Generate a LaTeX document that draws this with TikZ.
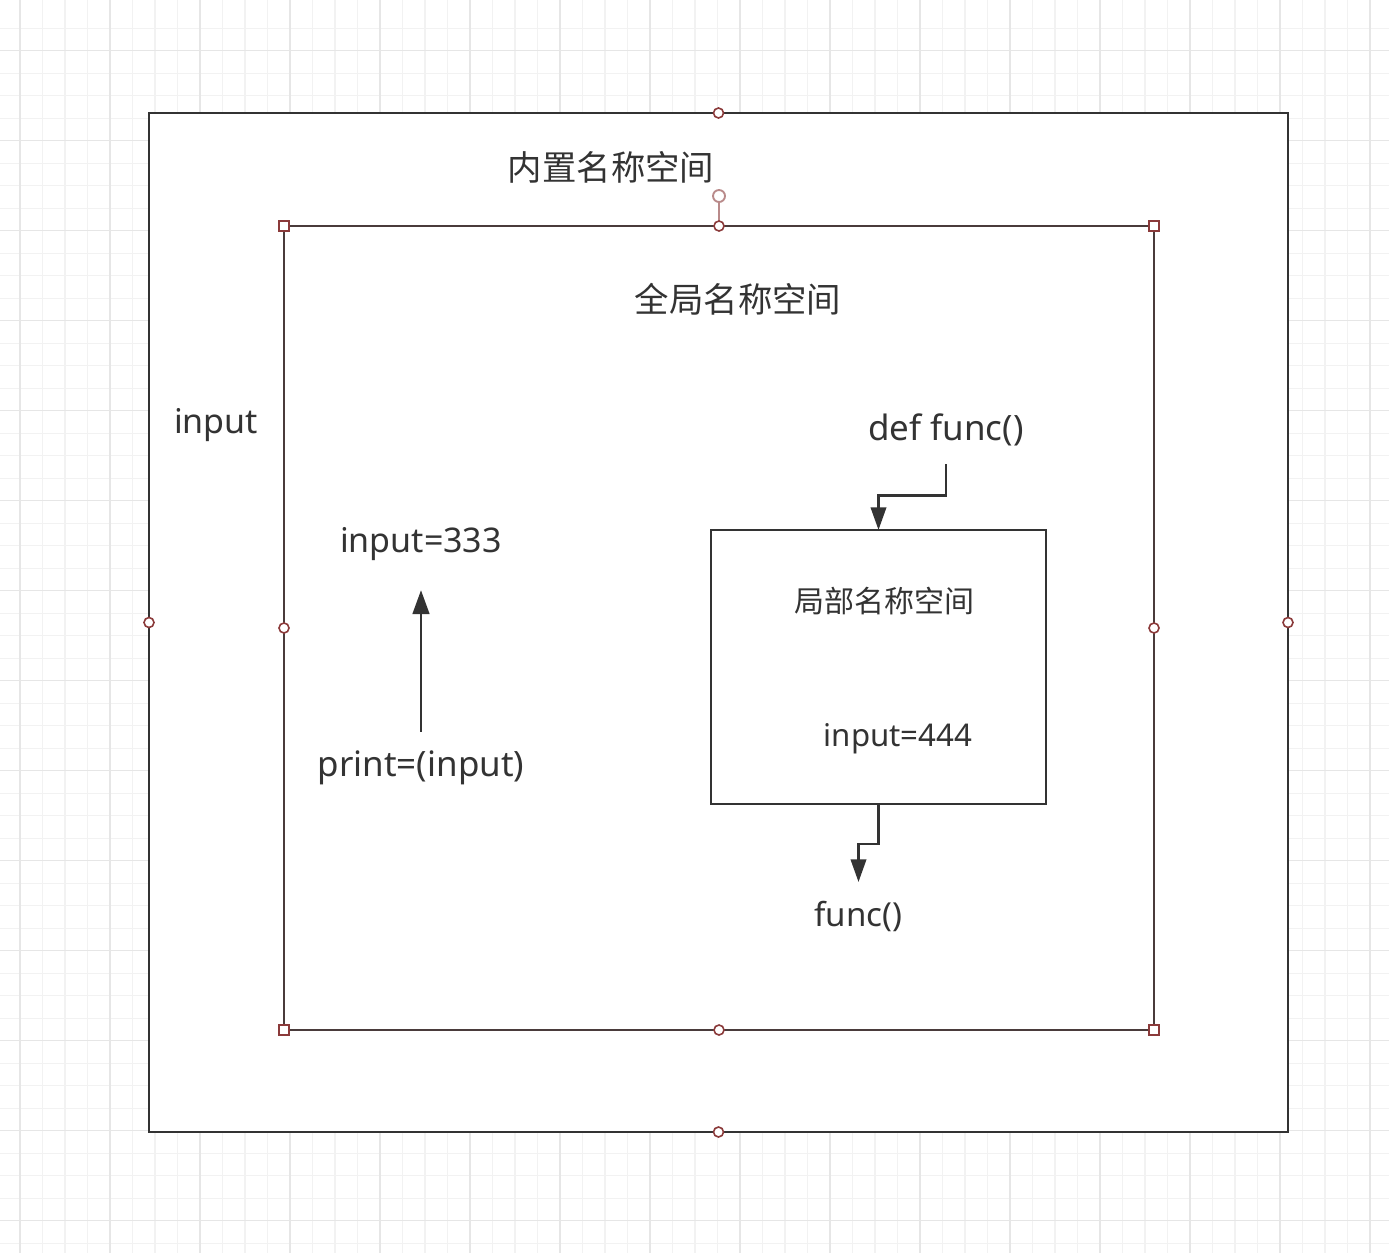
\documentclass[tikz,border=0pt]{standalone}
\usepackage{fontspec}
\setmainfont{Noto Sans}
\newfontfamily\cjk{Noto Sans CJK SC}
\usetikzlibrary{arrows.meta}
\definecolor{ink}{HTML}{333333}
\definecolor{framebrown}{HTML}{4A3B3B}
\definecolor{handlered}{HTML}{8B3A3A}
\definecolor{rothandle}{HTML}{B98A8A}
\definecolor{gridminor}{HTML}{F2F2F2}
\definecolor{gridmajor}{HTML}{E6E6E6}
\tikzset{
  gridline/.style={gridminor, line width=0.8pt},
  gridbold/.style={gridmajor, line width=0.8pt},
  outerbox/.style={draw=ink, fill=white, line width=2.1pt, inner sep=0pt, outer sep=0pt},
  innerbox/.style={draw=framebrown, fill=white, line width=1.8pt, inner sep=0pt, outer sep=0pt},
  localbox/.style={draw=ink, fill=white, line width=1.8pt, inner sep=0pt, outer sep=0pt},
  handlecirc/.style={circle, draw=handlered, fill=white, line width=1.2pt, minimum size=7.5pt, inner sep=0pt},
  handlesq/.style={rectangle, draw=handlered, fill=white, line width=1.2pt, minimum size=7.2pt, inner sep=0pt},
  rotcirc/.style={circle, draw=rothandle, fill=white, line width=1.4pt, minimum size=9pt, inner sep=0pt},
  lbl/.style={text=ink, inner sep=0pt, outer sep=0pt},
  arr/.style={draw=ink, line width=2pt, -{Triangle[length=17pt,width=11.5pt]}},
  arrb/.style={draw=ink, line width=2pt, -{Triangle[length=18pt,width=12.5pt]}},
}
\begin{document}
\begin{tikzpicture}[x=0.75pt,y=-0.75pt]
\useasboundingbox (0,0) rectangle (1389,1253);
\fill[white] (0,0) rectangle (1389,1253);
% background grid
\foreach \i in {0,...,61} {\draw[gridline] (20+22.5*\i,0) -- (20+22.5*\i,1253);}
\foreach \i in {0,...,55} {\draw[gridline] (0,28.3+22.5*\i) -- (1389,28.3+22.5*\i);}
\foreach \i in {0,4,...,60} {\draw[gridbold] (20+22.5*\i,0) -- (20+22.5*\i,1253);}
\foreach \i in {1,5,...,53} {\draw[gridbold] (0,28.3+22.5*\i) -- (1389,28.3+22.5*\i);}

% boxes
\node[outerbox, minimum width=854.25pt, minimum height=764.25pt] (outer) at (718.5,622.5) {};
\node[innerbox, minimum width=652.5pt, minimum height=603pt] (inner) at (719,628) {};
\node[localbox, minimum width=251.25pt, minimum height=205.5pt] (local) at (878.5,667) {};

% selection handles of the inner box
\draw[rothandle, line width=1.3pt] (719,201) -- (inner.north);
\node[rotcirc] (rot) at (719,196) {};
\foreach \a in {north west, north east, south west, south east} {\node[handlesq] at (inner.\a) {};}
\foreach \a in {north, south, east, west} {\node[handlecirc] at (inner.\a) {};}
\foreach \a in {north, south, east, west} {\node[handlecirc] at (outer.\a) {};}

% texts
\node[lbl, font=\cjk\fontsize{25.8pt}{30pt}\selectfont] (builtin) at (611,167) {内置名称空间};
\node[lbl, font=\cjk\fontsize{25.8pt}{30pt}\selectfont] (global) at (738,299) {全局名称空间};
\node[lbl, font=\cjk\fontsize{22.5pt}{26pt}\selectfont] (localname) at (884,601) {局部名称空间};
\node[lbl, anchor=base, font=\fontsize{25.5pt}{30pt}\selectfont] (inputlbl) at (216,433) {input};
\node[lbl, anchor=base, font=\fontsize{25.5pt}{30pt}\selectfont] (in333) at (421,552) {input=333};
\node[lbl, anchor=base, font=\fontsize{26.2pt}{30pt}\selectfont] (printin) at (421,776) {print=(input)};
\node[lbl, anchor=base, font=\fontsize{26.2pt}{30pt}\selectfont] (deffunc) at (946,440) {def func()};
\node[lbl, anchor=base, font=\fontsize{23.4pt}{28pt}\selectfont] (in444) at (898,746) {input=444};
\node[lbl, anchor=base, font=\fontsize{24.8pt}{28pt}\selectfont] (funccall) at (858.5,926) {func()};

% connectors
\draw[arrb] ([yshift=14pt]printin.north) -- ([yshift=-22.5pt]in333.south);
\draw[arr] ([yshift=-14pt]deffunc.south) -- ++(0,31) -| (local.north);
\draw[arr] (local.south) -- ++(0,40) -| ([yshift=14pt]funccall.north);
\end{tikzpicture}
\end{document}
